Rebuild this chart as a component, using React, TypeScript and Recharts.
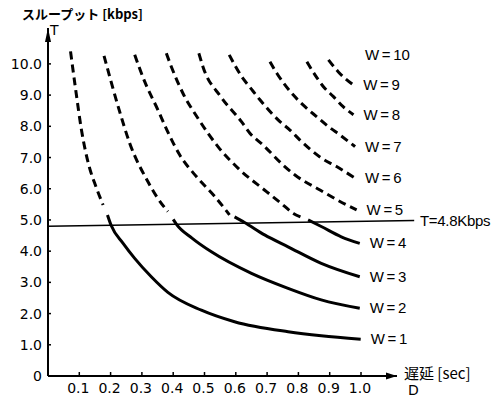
import React from 'react';
import { LineChart, Line, XAxis, YAxis, ReferenceLine, ReferenceDot } from 'recharts';

// throughput T [kbps] against delay D [sec], one curve per window size W
// dashed part = above the 4.8 kbps line, solid part = below it
const w1Dash = [
  { d: 0.072, t: 10.4 }, { d: 0.09, t: 9.06 }, { d: 0.106, t: 7.94 },
  { d: 0.133, t: 6.66 }, { d: 0.149, t: 6.18 }, { d: 0.176, t: 5.48 },
];
const w1Solid = [
  { d: 0.19, t: 5.16 }, { d: 0.202, t: 4.82 }, { d: 0.24, t: 4.25 }, { d: 0.277, t: 3.77 },
  { d: 0.33, t: 3.18 }, { d: 0.383, t: 2.68 }, { d: 0.49, t: 2.11 }, { d: 0.596, t: 1.74 },
  { d: 0.767, t: 1.42 }, { d: 0.873, t: 1.29 }, { d: 0.999, t: 1.18 },
];
const w2Dash = [
  { d: 0.179, t: 10.26 }, { d: 0.229, t: 8.47 }, { d: 0.261, t: 7.46 },
  { d: 0.319, t: 6.23 }, { d: 0.351, t: 5.69 }, { d: 0.383, t: 5.27 },
];
const w2Solid = [
  { d: 0.4, t: 5.02 }, { d: 0.41, t: 4.87 }, { d: 0.46, t: 4.42 }, { d: 0.522, t: 3.98 },
  { d: 0.65, t: 3.29 }, { d: 0.767, t: 2.81 }, { d: 0.873, t: 2.44 }, { d: 0.996, t: 2.17 },
];
const w3Dash = [
  { d: 0.277, t: 10.29 }, { d: 0.309, t: 9.43 }, { d: 0.351, t: 8.53 }, { d: 0.38, t: 7.88 },
  { d: 0.421, t: 7.08 }, { d: 0.474, t: 6.39 }, { d: 0.533, t: 5.75 }, { d: 0.58, t: 5.16 },
];
const w3Solid = [
  { d: 0.596, t: 5.1 }, { d: 0.628, t: 4.92 }, { d: 0.692, t: 4.52 }, { d: 0.767, t: 4.14 },
  { d: 0.873, t: 3.61 }, { d: 0.996, t: 3.18 },
];
const w4Dash = [
  { d: 0.378, t: 10.34 }, { d: 0.394, t: 9.91 }, { d: 0.431, t: 9.06 }, { d: 0.479, t: 8.26 },
  { d: 0.543, t: 7.35 }, { d: 0.607, t: 6.66 }, { d: 0.698, t: 5.91 }, { d: 0.745, t: 5.53 },
  { d: 0.784, t: 5.21 }, { d: 0.815, t: 5.06 },
];
const w4Solid = [
  { d: 0.831, t: 5.0 }, { d: 0.873, t: 4.79 }, { d: 0.937, t: 4.46 }, { d: 0.996, t: 4.25 },
];
const w5Dash = [
  { d: 0.482, t: 10.34 }, { d: 0.495, t: 9.91 }, { d: 0.552, t: 8.95 }, { d: 0.618, t: 8.15 },
  { d: 0.645, t: 7.78 }, { d: 0.687, t: 7.4 }, { d: 0.751, t: 6.76 }, { d: 0.789, t: 6.44 },
  { d: 0.869, t: 5.96 }, { d: 0.954, t: 5.48 }, { d: 0.986, t: 5.32 },
];
const w6Dash = [
  { d: 0.579, t: 10.29 }, { d: 0.619, t: 9.59 }, { d: 0.65, t: 9.19 }, { d: 0.677, t: 8.85 },
  { d: 0.741, t: 8.15 }, { d: 0.773, t: 7.88 }, { d: 0.805, t: 7.56 }, { d: 0.874, t: 6.98 },
  { d: 0.922, t: 6.71 }, { d: 0.981, t: 6.34 },
];
const w7Dash = [
  { d: 0.709, t: 10.07 }, { d: 0.731, t: 9.7 }, { d: 0.784, t: 9.0 }, { d: 0.821, t: 8.63 },
  { d: 0.858, t: 8.31 }, { d: 0.896, t: 7.99 }, { d: 0.933, t: 7.72 }, { d: 0.981, t: 7.35 },
];
const w8Dash = [
  { d: 0.827, t: 10.07 }, { d: 0.853, t: 9.65 }, { d: 0.88, t: 9.27 }, { d: 0.912, t: 8.95 },
  { d: 0.943, t: 8.63 }, { d: 0.976, t: 8.37 },
];
const w9Dash = [
  { d: 0.896, t: 10.13 }, { d: 0.927, t: 9.75 }, { d: 0.975, t: 9.33 },
];

const xTicks = [0.1, 0.2, 0.3, 0.4, 0.5, 0.6, 0.7, 0.8, 0.9, 1.0];
const yTicks = [0, 1, 2, 3, 4, 5, 6, 7, 8, 9, 10];
const lineLimit = [{ x: 0, y: 4.8 }, { x: 1.17, y: 4.98 }];

const numFont = '"DejaVu Sans", sans-serif';
const labFont = '"Liberation Sans", Arial, sans-serif';
const jpFont = '"Noto Sans CJK JP", sans-serif';

const curves = [
  { name: 'W = 1', dash: w1Dash, solid: w1Solid },
  { name: 'W = 2', dash: w2Dash, solid: w2Solid },
  { name: 'W = 3', dash: w3Dash, solid: w3Solid },
  { name: 'W = 4', dash: w4Dash, solid: w4Solid },
  { name: 'W = 5', dash: w5Dash, solid: null },
  { name: 'W = 6', dash: w6Dash, solid: null },
  { name: 'W = 7', dash: w7Dash, solid: null },
  { name: 'W = 8', dash: w8Dash, solid: null },
  { name: 'W = 9', dash: w9Dash, solid: null },
];

const endLabel = (text: string, len: number) => (p: any) =>
  p.index === len - 1 ? (
    <text x={p.x + 10} y={p.y} dy={5} fontSize={15} fontFamily={labFont} fill="#000" wordSpacing={-1.5}>
      {text}
    </text>
  ) : (
    <g />
  );

const XTick = (p: any) => (
  <g>
    <line x1={p.x} x2={p.x} y1={p.y} y2={p.y - 4} stroke="#000" strokeWidth={1.5} />
    <text x={p.x - 1} y={p.y + 17} textAnchor="middle" fontSize={14} fontFamily={numFont} fill="#000">
      {p.payload.value.toFixed(1)}
    </text>
  </g>
);

const YTick = (p: any) => (
  <g>
    <line x1={p.x} x2={p.x + 3} y1={p.y} y2={p.y} stroke="#000" strokeWidth={1.5} />
    <text x={p.x - 6} y={p.y} dy={5} textAnchor="end" fontSize={14} fontFamily={numFont} fill="#000">
      {p.payload.value === 0 ? '0' : p.payload.value.toFixed(1)}
    </text>
  </g>
);

const arrowRight = (p: any) => (
  <path d={`M${p.cx} ${p.cy} L${p.cx - 11} ${p.cy - 3.5} L${p.cx - 11} ${p.cy + 3.5} Z`} fill="#000" />
);
const arrowUp = (p: any) => (
  <path d={`M${p.cx} ${p.cy} L${p.cx - 3} ${p.cy + 14} L${p.cx + 3} ${p.cy + 14} Z`} fill="#000" />
);

const abs = (left: number, top: number, extra: React.CSSProperties = {}): React.CSSProperties => ({
  position: 'absolute', left, top, lineHeight: 1, whiteSpace: 'nowrap', color: '#000', ...extra,
});

export default function App() {
  return (
    <div style={{ position: 'absolute', left: 0, top: 0, width: 502, height: 399, background: '#fff' }}>
      <LineChart width={502} height={399} margin={{ top: 28, right: 105, bottom: 0, left: 0 }}>
        <XAxis
          type="number" dataKey="d" domain={[0, 1.115]} ticks={xTicks} allowDataOverflow
          height={23} tickSize={0} tickMargin={0} tick={<XTick />}
          axisLine={{ stroke: '#000', strokeWidth: 2 }}
        />
        <YAxis
          type="number" dataKey="t" domain={[0, 11.15]} ticks={yTicks} allowDataOverflow
          width={48} tickSize={0} tickMargin={0} tick={<YTick />}
          axisLine={{ stroke: '#000', strokeWidth: 2 }}
        />
        <ReferenceLine segment={lineLimit} stroke="#000" strokeWidth={1.5} ifOverflow="visible" />
        <ReferenceDot x={1.115} y={0} r={0} shape={arrowRight} ifOverflow="visible" />
        <ReferenceDot x={0} y={11.15} r={0} shape={arrowUp} ifOverflow="visible" />
        {curves.map((c) => (
          <Line
            key={c.name + '-dash'} data={c.dash} dataKey="t" type="monotone"
            stroke="#000" strokeWidth={3} strokeDasharray="8 5" dot={false}
            isAnimationActive={false}
            label={c.solid ? false : endLabel(c.name, c.dash.length)}
          />
        ))}
        {curves.filter((c) => c.solid).map((c) => (
          <Line
            key={c.name + '-solid'} data={c.solid!} dataKey="t" type="monotone"
            stroke="#000" strokeWidth={3} dot={false} isAnimationActive={false}
            label={endLabel(c.name, c.solid!.length)}
          />
        ))}
      </LineChart>
      <div style={abs(22, 7, { fontSize: 13, fontFamily: jpFont, fontWeight: 700 })}>
        スループット [kbps]
      </div>
      <div style={abs(50, 23, { fontSize: 14, fontFamily: numFont })}>T</div>
      <div style={abs(365, 47, { fontSize: 15, fontFamily: labFont, wordSpacing: -1.5 })}>W = 10</div>
      <div style={abs(420, 213, { fontSize: 15, fontFamily: labFont, letterSpacing: -0.3 })}>T=4.8Kbps</div>
      <div style={abs(404, 365, { fontSize: 15, fontFamily: jpFont })}>遅延 [sec]</div>
      <div style={abs(408, 383, { fontSize: 14, fontFamily: numFont })}>D</div>
    </div>
  );
}
